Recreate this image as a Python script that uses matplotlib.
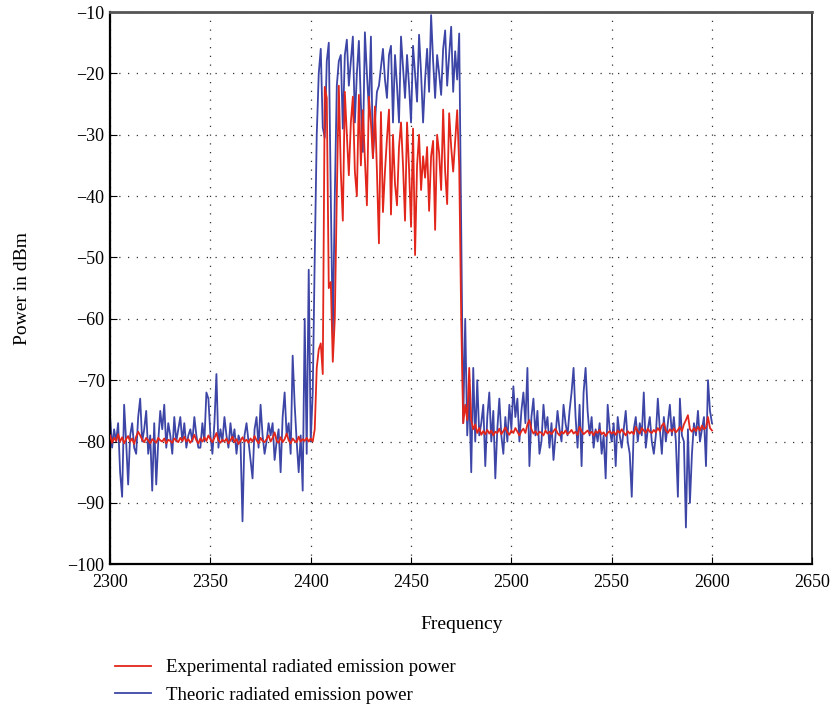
import numpy as np
import matplotlib
matplotlib.use("Agg")
import matplotlib.pyplot as plt

plt.rcParams["font.family"] = ["Liberation Serif", "DejaVu Serif"]

freq = np.arange(2300, 2601)

# theoretic (blue), 2300-2399
blue_pre = [
    -76, -81, -78, -80, -77, -85, -89, -74, -80, -87,
    -79, -77, -81, -82, -76, -73, -80, -78, -75, -82,
    -79, -88, -77, -87, -80, -75, -78, -74, -81, -77,
    -79, -82, -76, -80, -78, -76, -80, -77, -81, -79,
    -78, -80, -76, -79, -81, -81, -77, -80, -72, -73,
    -79, -82, -77, -69, -81, -78, -80, -76, -79, -81,
    -77, -80, -78, -82, -79, -80, -93, -79, -77, -80,
    -83, -86, -78, -76, -81, -74, -79, -82, -80, -77,
    -79, -77, -83, -80, -78, -85, -76, -72, -79, -77,
    -82, -66, -74, -80, -85, -79, -88, -60, -82, -52,
]
# 2400-2475
blue_band = [
    -80, -72, -50, -30, -20, -16, -28.8, -30.5, -18, -15,
    -40, -63, -40, -22, -18, -17, -29, -17, -14.5, -22,
    -18, -14, -28, -20, -14.7, -25, -32.8, -13.3, -20, -26,
    -14, -33.8, -28, -23, -22,
    -19, -16, -21, -24, -17, -15.5, -28, -17, -22, -28,
    -14, -19, -24, -17, -22, -28, -15.5, -20, -24.6, -13.7,
    -20, -28, -21, -16, -23, -10.5, -18, -24, -17, -20,
    -23.5, -16, -13, -22, -17, -12.4, -23, -16.4, -21, -13.5,
    -45,
]
# 2476-2600
blue_post = [
    -77, -60, -79, -72,
    -85, -68, -80, -70, -79, -77, -74, -84, -76, -72,
    -80, -75, -86, -78, -73, -79, -82, -76, -80, -74,
    -78, -71, -76, -73, -80, -75, -72, -77, -68, -84,
    -76, -73, -79, -75, -82, -80, -74, -78, -76, -81,
    -77, -83, -79, -75, -78, -80, -74, -77, -79, -75,
    -72, -68, -76, -81, -74, -84, -72, -68, -75, -79,
    -76, -81, -78, -80, -77, -82, -79, -86, -74, -78,
    -80, -77, -84, -76, -79, -81, -78, -75, -80, -82,
    -89, -78, -76, -80, -77, -79, -72, -81, -78, -76,
    -80, -82, -79, -73, -78, -82, -76, -80, -77, -74,
    -79, -76, -80, -89, -73, -79, -80, -94, -78, -90,
    -82, -77, -79, -75, -80, -78, -76, -84, -70, -75,
    -77,
]

# experimental (red)
red_pre = [
    -79.0, -80.2, -79.4, -79.9, -78.8, -80.0, -79.3, -80.3, -79.6, -79.1,
    -80.0, -79.5, -80.4, -79.2, -78.4, -79.0, -79.7, -80.1, -79.4, -79.8,
    -80.3, -79.6, -79.9, -80.2, -79.4, -79.8, -80.0, -79.5, -80.3, -79.7,
    -79.9, -80.2, -79.5, -79.8, -80.1, -79.4, -79.9, -79.2, -80.0, -79.6,
    -80.2, -79.7, -78.9, -79.8, -80.3, -79.5, -80.0, -79.3, -79.9, -79.0,
    -79.6, -80.1, -79.4, -78.6, -79.8, -80.2, -79.7, -80.0, -79.5, -80.3,
    -79.8, -79.2, -80.1, -79.6, -80.4, -79.9, -79.3, -80.0, -79.7, -80.2,
    -79.5, -80.0, -79.1, -79.8, -80.3, -79.4, -79.9, -80.1, -79.6, -79.0,
    -80.0, -79.4, -78.5, -79.9, -80.2, -79.3, -80.1, -79.6, -78.7, -79.8,
    -80.3, -79.5, -79.9, -80.1, -79.2, -80.0, -79.6, -79.9, -79.4, -80.0,
]
red_band = [
    -79.5, -80, -78, -68, -65, -64, -69, -22.2, -24, -55,
    -54, -67, -60, -40, -22, -36, -44, -23, -30, -36.6,
    -28, -23.8, -36, -40, -23.5, -35, -26, -34, -41.5, -23.8,
    -28, -33.8, -25.4, -36, -47.7,
    -26.3, -42.6, -36, -30.6, -25.9, -43, -30, -38, -41.5, -32,
    -28, -35, -44, -28, -35.5, -45, -29, -49.6, -35, -30,
    -39, -33.5, -37, -32, -42.4, -33.5, -31, -45.5, -30, -33,
    -39, -25.9, -36, -41.3, -26.5, -32, -36, -31, -26, -35,
    -60,
]
red_post = [
    -77, -74, -76.5, -68,
    -76.5, -78.0, -77.2, -78.6, -77.8, -78.9, -78.3, -78.8, -78.1, -78.7,
    -78.2, -79.0, -78.4, -78.6, -77.9, -78.8, -78.3, -77.7, -78.5, -78.9,
    -78.2, -78.6, -77.8, -78.4, -79.0, -78.3, -77.9, -78.6, -77.2, -76.5,
    -78.0, -78.7, -78.3, -78.9, -78.4, -78.6, -79.0, -78.2, -78.7, -78.4,
    -78.8, -78.3, -77.9, -78.6, -79.0, -78.4, -78.7, -78.2, -78.8, -78.5,
    -78.1, -78.7, -78.4, -78.9, -77.6, -78.3, -78.8, -78.5, -78.2, -78.7,
    -78.4, -79.0, -78.3, -78.6, -78.1, -78.8, -78.5, -79.1, -78.6, -78.3,
    -78.7, -78.4, -78.9, -78.2, -78.6, -78.0, -78.5, -79.0, -78.3, -78.7,
    -78.4, -78.8, -77.6, -78.3, -78.7, -77.8, -78.2, -78.6, -77.9, -78.4,
    -78.6, -78.1, -78.5, -77.8, -78.3, -77.4, -77.0, -78.2, -78.6, -78.0,
    -78.4, -77.9, -78.5, -78.1, -77.6, -78.3, -77.2, -76.5, -75.7, -78.0,
    -78.4, -77.8, -78.3, -77.6, -78.2, -77.4, -78.0, -77.7, -76.0, -77.8,
    -78.2,
]

theoretic = blue_pre + blue_band + blue_post
experimental = red_pre + red_band + red_post

fig = plt.figure(figsize=(8.34, 7.08), dpi=100)
ax = fig.add_axes([0.132, 0.203, 0.842, 0.78])

ax.plot(freq, experimental, color="#E2261B", lw=1.3,
        label="Experimental radiated emission power", zorder=3)
ax.plot(freq, theoretic, color="#3D46A6", lw=1.3,
        label="Theoric radiated emission power", zorder=2)

ax.set_xlim(2300, 2650)
ax.set_ylim(-100, -10)
ax.set_xticks(np.arange(2300, 2651, 50))
ax.set_yticks(np.arange(-100, -9, 10))
ax.set_yticklabels([f"\u2212{abs(v)}" for v in range(-100, -9, 10)])
ax.grid(True, color="#333333", linestyle=(0, (1, 6)), linewidth=0.9)
ax.tick_params(direction="in", length=5, labelsize=13, pad=4)
ax.tick_params(axis="x", pad=7)
for s in ax.spines.values():
    s.set_linewidth(1.1)
ax.spines["top"].set_color("#555555")
ax.spines["top"].set_linewidth(2)
ax.spines["left"].set_linewidth(1.6)
ax.spines["bottom"].set_linewidth(1.6)

ax.set_xlabel("Frequency", fontsize=14, labelpad=18)
ax.set_ylabel("Power in dBm", fontsize=14, labelpad=26)

handles, labels = ax.get_legend_handles_labels()
fig.legend(handles, labels, loc="lower left", bbox_to_anchor=(0.118, -0.018),
           frameon=False, fontsize=13.5, handlelength=1.9, handletextpad=0.8,
           labelspacing=0.55)

fig.savefig("out.png", dpi=100)
